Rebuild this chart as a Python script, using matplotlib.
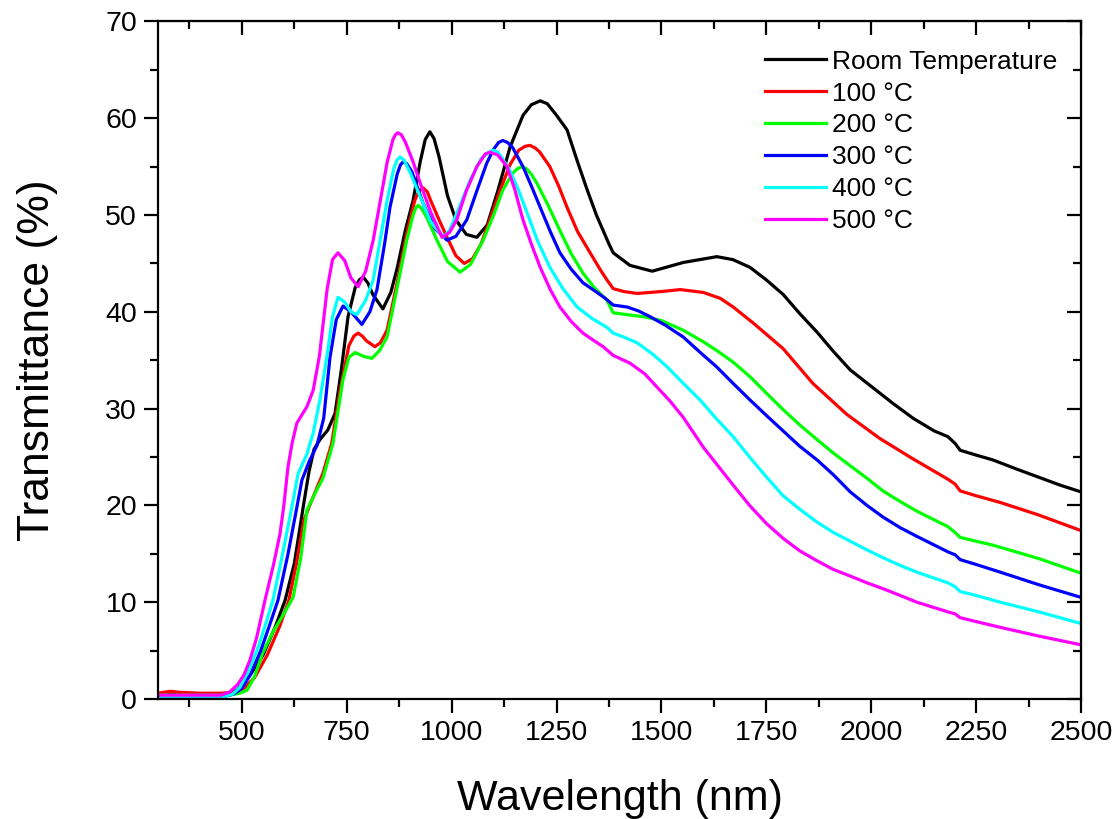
import numpy as np
import matplotlib
matplotlib.use("Agg")
import matplotlib.pyplot as plt
from matplotlib.ticker import MultipleLocator

plt.rcParams['font.family'] = ['Liberation Sans', 'DejaVu Sans']

# Données (longueur d'onde en nm, transmittance en %)
wl_rt = [300, 350, 400, 450, 470, 490, 520, 550, 580, 603, 625, 646, 660, 672, 686, 705,
         722, 737, 753, 770, 780, 789, 800, 812, 836, 855, 870, 890, 908, 925, 937, 948, 958,
         970, 990, 1010, 1035, 1060, 1085, 1110, 1139, 1170, 1190, 1211, 1228, 1250, 1275,
         1300, 1323, 1345, 1361, 1375, 1385, 1425, 1478, 1552, 1632, 1670, 1711, 1750, 1790,
         1830, 1871, 1910, 1950, 2000, 2050, 2100, 2150, 2183, 2200, 2212, 2250, 2290, 2350,
         2400, 2450, 2500]
t_rt = [0.4, 0.5, 0.4, 0.4, 0.5, 1.0, 2.5, 4.5, 7.5, 10.2, 14.0, 19.8, 23.5, 25.8, 26.8, 27.8,
        29.5, 34.0, 39.5, 42.5, 43.3, 43.6, 43.0, 41.8, 40.3, 42.0, 44.5, 48.5, 51.5, 55.5, 57.8, 58.6, 57.9,
        56.0, 52.0, 49.5, 48.0, 47.7, 49.0, 52.5, 57.0, 60.3, 61.4, 61.8, 61.5, 60.3, 58.8,
        55.5, 52.6, 50.0, 48.4, 47.0, 46.1, 44.8, 44.2, 45.1, 45.7, 45.4, 44.6, 43.3, 41.8,
        39.8, 37.9, 35.9, 34.0, 32.3, 30.6, 29.0, 27.7, 27.1, 26.4, 25.7, 25.2, 24.7, 23.7,
        22.9, 22.1, 21.4]

wl_100 = [300, 330, 350, 400, 450, 480, 500, 530, 560, 590, 612, 630, 648, 670, 693, 714,
          734, 755, 767, 777, 787, 797, 817, 830, 846, 870, 893, 912, 922, 932, 942, 950, 970,
          989, 1010, 1030, 1050, 1070, 1091, 1115, 1139, 1160, 1175, 1187, 1200, 1210, 1234,
          1255, 1275, 1300, 1330, 1355, 1370, 1385, 1410, 1442, 1500, 1545, 1600, 1640, 1671,
          1720, 1790, 1861, 1942, 2021, 2100, 2183, 2200, 2212, 2250, 2308, 2400, 2500]
t_100 = [0.6, 0.8, 0.7, 0.6, 0.6, 0.7, 0.9, 2.2, 4.5, 7.5, 10.2, 14.0, 18.5, 20.9, 23.3, 26.4,
         31.9, 36.5, 37.5, 37.8, 37.5, 37.0, 36.4, 36.8, 38.1, 43.0, 48.1, 51.5, 52.5, 52.8, 52.4, 51.5, 49.5,
         47.7, 45.8, 45.0, 45.5, 47.0, 49.5, 52.5, 55.2, 56.7, 57.1, 57.2, 56.9, 56.5, 55.0,
         53.0, 50.8, 48.3, 46.1, 44.3, 43.3, 42.4, 42.1, 41.9, 42.1, 42.3, 42.0, 41.4, 40.5,
         38.8, 36.2, 32.6, 29.4, 26.9, 24.8, 22.7, 22.2, 21.5, 21.0, 20.3, 19.0, 17.4]

wl_200 = [300, 400, 470, 495, 512, 530, 550, 575, 600, 622, 640, 655, 675, 693, 717, 741,
          755, 770, 790, 810, 828, 846, 870, 893, 908, 915, 920, 928, 940, 965, 990, 1020, 1045,
          1075, 1100, 1122, 1145, 1157, 1168, 1178, 1190, 1203, 1230, 1258, 1285, 1313, 1340,
          1370, 1385, 1420, 1456, 1500, 1552, 1600, 1632, 1671, 1711, 1750, 1790, 1830, 1871,
          1910, 1950, 1990, 2028, 2069, 2109, 2183, 2200, 2212, 2250, 2290, 2400, 2500]
t_200 = [0.4, 0.4, 0.4, 0.6, 0.9, 2.3, 4.8, 7.0, 8.8, 10.5, 14.5, 19.5, 21.3, 22.8, 26.4, 33.0,
         35.3, 35.8, 35.4, 35.2, 36.0, 37.4, 42.5, 47.4, 50.0, 50.8, 51.0, 50.7, 49.8, 47.4, 45.2, 44.1, 44.9,
         47.4, 50.0, 52.6, 54.3, 54.8, 55.0, 54.8, 54.2, 53.3, 51.0, 48.4, 46.0, 44.0, 42.5,
         41.2, 39.9, 39.7, 39.5, 39.1, 38.1, 36.9, 36.0, 34.8, 33.3, 31.6, 29.9, 28.3, 26.8,
         25.4, 24.1, 22.8, 21.5, 20.4, 19.4, 17.8, 17.2, 16.7, 16.3, 15.9, 14.5, 13.0]

wl_300 = [300, 400, 460, 480, 500, 520, 545, 565, 586, 610, 631, 643, 660, 679, 695, 710,
          725, 741, 760, 786, 805, 822, 840, 853, 870, 878, 885, 893, 905, 932, 960, 989, 1010,
          1036, 1060, 1084, 1100, 1112, 1122, 1133, 1145, 1170, 1190, 1211, 1235, 1258, 1285,
          1313, 1340, 1366, 1385, 1418, 1445, 1473, 1510, 1552, 1590, 1632, 1671, 1711, 1750,
          1790, 1830, 1871, 1909, 1950, 1990, 2028, 2069, 2109, 2183, 2200, 2212, 2250, 2308,
          2400, 2500]
t_300 = [0.3, 0.3, 0.3, 0.5, 1.1, 2.5, 5.0, 7.5, 10.2, 15.0, 19.8, 22.6, 24.5, 26.2, 29.0, 35.3,
         39.2, 40.6, 40.0, 38.7, 40.0, 42.3, 47.0, 50.8, 54.2, 55.2, 55.5, 55.3, 54.5, 51.2, 48.6, 47.4, 47.8,
         49.5, 52.5, 55.4, 56.8, 57.5, 57.7, 57.5, 57.0, 55.0, 53.0, 50.8, 48.3, 46.1, 44.4,
         43.0, 42.2, 41.4, 40.7, 40.5, 40.1, 39.5, 38.6, 37.4, 35.9, 34.3, 32.6, 30.9, 29.3,
         27.7, 26.1, 24.7, 23.2, 21.4, 20.0, 18.8, 17.7, 16.8, 15.2, 14.9, 14.4, 13.9, 13.1,
         11.8, 10.5]

wl_400 = [300, 400, 460, 478, 495, 515, 540, 557, 574, 597, 619, 634, 655, 670, 686, 703,
          716, 729, 745, 760, 774, 795, 813, 830, 846, 862, 870, 877, 886, 900, 925, 950, 980,
          996, 1020, 1044, 1070, 1085, 1099, 1110, 1120, 1139, 1160, 1180, 1205, 1234, 1265,
          1299, 1335, 1370, 1385, 1410, 1442, 1480, 1514, 1550, 1592, 1630, 1671, 1710, 1751,
          1790, 1830, 1870, 1910, 1950, 1990, 2028, 2069, 2109, 2183, 2200, 2212, 2250, 2308,
          2400, 2500]
t_400 = [0.3, 0.3, 0.3, 0.5, 1.2, 2.8, 5.5, 7.8, 10.2, 15.0, 19.8, 23.3, 25.3, 27.5, 30.9, 35.5,
         39.5, 41.5, 41.0, 40.0, 39.7, 41.2, 43.3, 47.5, 51.5, 54.8, 55.7, 56.0, 55.7, 54.5, 51.9, 49.3, 47.7,
         48.5, 51.0, 53.6, 55.8, 56.4, 56.7, 56.5, 55.9, 54.6, 52.5, 50.2, 47.3, 44.6, 42.4,
         40.5, 39.3, 38.4, 37.8, 37.4, 36.8, 35.6, 34.3, 32.7, 30.9, 29.0, 27.1, 25.0, 22.9,
         21.0, 19.6, 18.3, 17.2, 16.3, 15.4, 14.6, 13.8, 13.1, 12.0, 11.6, 11.1, 10.7, 10.0,
         9.0, 7.8]

wl_500 = [300, 400, 450, 470, 490, 505, 519, 535, 555, 575, 591, 600, 610, 620, 631, 645,
          655, 670, 685, 703, 716, 729, 745, 760, 777, 795, 813, 830, 846, 860, 866, 872, 880,
          890, 908, 925, 950, 977, 995, 1012, 1035, 1060, 1080, 1091, 1110, 1132, 1150, 1170,
          1190, 1211, 1235, 1258, 1285, 1313, 1340, 1361, 1385, 1425, 1460, 1490, 1520, 1552,
          1600, 1640, 1671, 1710, 1751, 1790, 1830, 1870, 1909, 1950, 1990, 2028, 2069, 2109,
          2183, 2200, 2212, 2250, 2308, 2400, 2500]
t_500 = [0.4, 0.4, 0.4, 0.7, 1.5, 2.5, 4.0, 6.3, 10.2, 13.8, 17.1, 20.0, 24.0, 26.5, 28.5, 29.5,
         30.2, 31.9, 35.5, 42.3, 45.4, 46.1, 45.3, 43.5, 42.6, 44.2, 47.4, 51.5, 55.4, 57.8, 58.3, 58.5, 58.3,
         57.5, 55.5, 53.3, 50.3, 47.7, 48.2, 49.5, 52.5, 55.0, 56.3, 56.5, 56.2, 55.0, 52.7, 49.5,
         47.0, 44.6, 42.3, 40.5, 39.0, 37.8, 37.0, 36.4, 35.5, 34.7, 33.6, 32.2, 30.8, 29.1,
         26.0, 23.8, 22.1, 20.0, 18.1, 16.6, 15.3, 14.3, 13.4, 12.7, 12.0, 11.4, 10.7, 10.0,
         9.0, 8.8, 8.4, 8.0, 7.4, 6.5, 5.6]

series = [
    (wl_rt, t_rt, "Room Temperature", "#000000"),
    (wl_100, t_100, "100 °C", "#FF0000"),
    (wl_200, t_200, "200 °C", "#00FF00"),
    (wl_300, t_300, "300 °C", "#0000FF"),
    (wl_400, t_400, "400 °C", "#00FFFF"),
    (wl_500, t_500, "500 °C", "#FF00FF"),
]

fig = plt.figure(figsize=(11.18, 8.19), dpi=100)
ax = fig.add_axes([0.1413, 0.1465, 0.8256, 0.8273])

for wl, t, lab, col in series:
    ax.plot(wl, t, color=col, lw=2.3, label=lab)

ax.set_xlim(300, 2500)
ax.set_ylim(0, 70)
ax.xaxis.set_major_locator(MultipleLocator(250))
ax.xaxis.set_minor_locator(MultipleLocator(125))
ax.yaxis.set_major_locator(MultipleLocator(10))
ax.yaxis.set_minor_locator(MultipleLocator(5))

for s in ax.spines.values():
    s.set_linewidth(1.6)

ax.tick_params(which='major', direction='out', length=10, width=1.6, labelsize=20.5, pad=5)
ax.tick_params(which='minor', direction='out', length=5.5, width=1.6)

# ticks internes en haut et à droite
top = ax.secondary_xaxis('top')
top.xaxis.set_major_locator(MultipleLocator(250))
top.xaxis.set_minor_locator(MultipleLocator(125))
top.tick_params(which='major', direction='in', length=10, width=1.6, labeltop=False)
top.tick_params(which='minor', direction='in', length=5.5, width=1.6)
right = ax.secondary_yaxis('right')
right.yaxis.set_major_locator(MultipleLocator(10))
right.yaxis.set_minor_locator(MultipleLocator(5))
right.tick_params(which='major', direction='in', length=10, width=1.6, labelright=False)
right.tick_params(which='minor', direction='in', length=5.5, width=1.6)

ax.set_xlabel("Wavelength (nm)", fontsize=31, labelpad=24)
ax.set_ylabel("Transmittance (%)", fontsize=32, labelpad=34)

ax.legend(loc='upper right', bbox_to_anchor=(0.986, 0.974), frameon=False, fontsize=19,
          handlelength=2.3, handletextpad=0.25, labelspacing=0.3, borderaxespad=0)

fig.savefig("out.png", dpi=100)
